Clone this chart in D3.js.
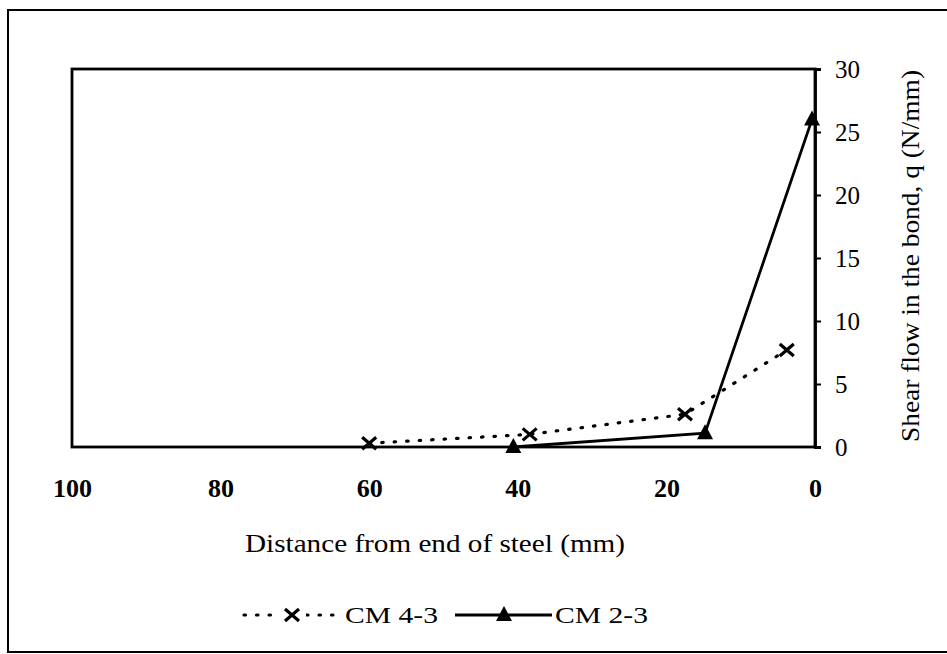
<!DOCTYPE html>
<html><head><meta charset="utf-8">
<script src="https://cdn.jsdelivr.net/npm/d3@7"></script>
<style>body{margin:0;background:#fff}svg{display:block}text{font-family:"Liberation Serif","Times New Roman",serif;fill:#000}</style>
</head><body><svg id="c" width="947" height="654"></svg>
<script>
// ---- data ----
const seriesNames = ["CM 4-3", "CM 2-3"];
const cm43Dist = [60, 38.4, 17.5, 3.8];
const cm43Q    = [0.3, 1.0, 2.6, 7.7];
const cm23Dist = [40.6, 14.8, 0.4];
const cm23Q    = [0.0, 1.1, 26.0];
const xTicks = [100, 80, 60, 40, 20, 0];
const yTicks = [0, 5, 10, 15, 20, 25, 30];
const xTitle = "Distance from end of steel (mm)";
const yTitle = "Shear flow in the bond, q (N/mm)";

const svg = d3.select("#c");
const L = 72, R = 815, T = 69, B = 447;
const x = d3.scaleLinear().domain([100, 0]).range([L, R]);
const y = d3.scaleLinear().domain([0, 30]).range([B, T]);

// outer border
svg.append("rect").attr("x", 8).attr("y", 10).attr("width", 980).attr("height", 642)
  .attr("fill", "none").attr("stroke", "#000").attr("stroke-width", 2);

// plot frame
svg.append("rect").attr("x", L).attr("y", T).attr("width", R - L).attr("height", B - T)
  .attr("fill", "none").attr("stroke", "#000").attr("stroke-width", 2.8);

// right y axis
const yAxis = d3.axisRight(y).tickValues(yTicks).tickSize(6).tickPadding(14);
const gy = svg.append("g").attr("transform", `translate(${R},0)`).call(yAxis);
gy.select(".domain").attr("stroke-width", 2.8);
gy.selectAll(".tick line").attr("stroke-width", 2);
gy.selectAll(".tick text").attr("font-size", 25).attr("font-family", "Liberation Serif");

// bottom x axis labels
const xAxis = d3.axisBottom(x).tickValues(xTicks).tickSize(0).tickPadding(32);
const gx = svg.append("g").attr("transform", `translate(0,${B})`).call(xAxis);
gx.select(".domain").remove();
gx.selectAll(".tick text").attr("font-size", 26).attr("font-weight", "bold").attr("font-family", "Liberation Serif");

// titles
svg.append("text").attr("x", 435).attr("y", 552).attr("text-anchor", "middle")
  .attr("font-size", 26).attr("textLength", 380).attr("lengthAdjust", "spacingAndGlyphs").text(xTitle);
svg.append("text").attr("transform", "translate(919,256) rotate(-90)").attr("text-anchor", "middle")
  .attr("font-size", 26).attr("textLength", 372).attr("lengthAdjust", "spacingAndGlyphs").text(yTitle);

// series lines
const line = d3.line().x(d => x(d[0])).y(d => y(d[1]));
const d43 = cm43Dist.map((v, i) => [v, cm43Q[i]]);
const d23 = cm23Dist.map((v, i) => [v, cm23Q[i]]);

svg.append("path").datum(d43).attr("d", line).attr("fill", "none").attr("stroke", "#000")
  .attr("stroke-width", 3.2).attr("stroke-linecap", "round").attr("stroke-dasharray", "1.5,11");
svg.append("path").datum(d23).attr("d", line).attr("fill", "none").attr("stroke", "#000")
  .attr("stroke-width", 2.8);

const crossPath = "M-7,-6L7,6M-7,6L7,-6";
const triPath = "M0,-9L8,6L-8,6Z";
svg.selectAll(".cx").data(d43).join("path").attr("class", "cx")
  .attr("transform", d => `translate(${x(d[0])},${y(d[1])})`)
  .attr("d", crossPath).attr("stroke", "#000").attr("stroke-width", 3.2).attr("fill", "none");
svg.selectAll(".tr").data(d23).join("path").attr("class", "tr")
  .attr("transform", d => `translate(${x(d[0])},${y(d[1])})`)
  .attr("d", triPath).attr("fill", "#000");

// legend
const ly = 615;
const lg = svg.append("g");
lg.append("line").attr("x1", 244).attr("x2", 340).attr("y1", ly).attr("y2", ly)
  .attr("stroke", "#000").attr("stroke-width", 3.2).attr("stroke-linecap", "round").attr("stroke-dasharray", "1.5,11");
lg.append("rect").attr("x", 280).attr("y", ly - 9).attr("width", 26).attr("height", 18).attr("fill", "#fff");
lg.append("path").attr("transform", `translate(292,${ly})`).attr("d", crossPath)
  .attr("stroke", "#000").attr("stroke-width", 3.2);
lg.append("text").attr("x", 345).attr("y", ly + 8).attr("font-size", 24)
  .attr("textLength", 93).attr("lengthAdjust", "spacingAndGlyphs").text(seriesNames[0]);
lg.append("line").attr("x1", 455).attr("x2", 552).attr("y1", ly).attr("y2", ly)
  .attr("stroke", "#000").attr("stroke-width", 2.8);
lg.append("path").attr("transform", `translate(504,${ly})`).attr("d", triPath).attr("fill", "#000");
lg.append("text").attr("x", 555).attr("y", ly + 8).attr("font-size", 24)
  .attr("textLength", 93).attr("lengthAdjust", "spacingAndGlyphs").text(seriesNames[1]);
</script></body></html>
